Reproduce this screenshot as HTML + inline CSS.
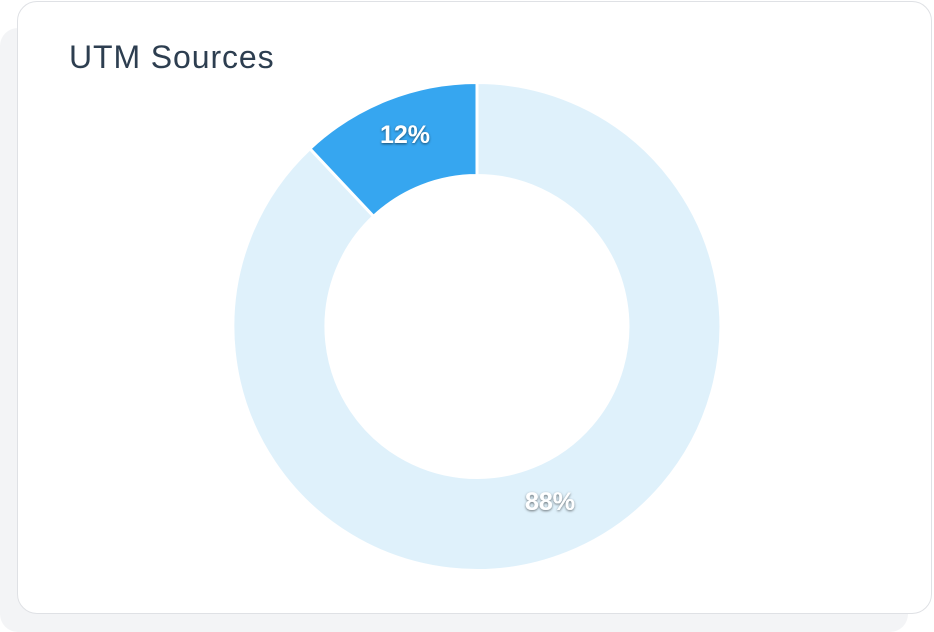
<!DOCTYPE html>
<html><head><meta charset="utf-8"><style>
html,body{margin:0;padding:0;width:934px;height:632px;background:#fff;overflow:hidden;font-family:"Liberation Sans",sans-serif}
.shadow{position:absolute;left:0;top:28px;width:908px;height:604px;background:#f3f4f6;border-radius:18px}
.card{position:absolute;left:17px;top:1px;width:913px;height:611px;background:#fff;border:1.5px solid #dfe1e5;border-radius:20px}
.title{position:absolute;left:69px;top:39px;font-size:32px;color:#2d3e50;letter-spacing:0.9px}
svg{position:absolute;left:0;top:0}
</style></head><body>
<div class="shadow"></div>
<div class="card"></div>
<div class="title">UTM Sources</div>
<svg width="934" height="632">
<defs><filter id="ts" x="-20%" y="-20%" width="140%" height="140%"><feDropShadow dx="0" dy="1" stdDeviation="1.2" flood-color="#000" flood-opacity="0.55"/></filter></defs>
<g stroke="#fff" stroke-width="3" stroke-linejoin="round">
<path d="M477,82.5 A244,244 0 1 1 309.9,148.6 L373.6,216.4 A151,151 0 1 0 477,175.5 Z" fill="#dff1fb"/>
<path d="M477,82.5 L477,175.5 A151,151 0 0 0 373.6,216.4 L309.9,148.6 A244,244 0 0 1 477,82.5 Z" fill="#36a6f0"/>
</g>
<g fill="#fff" font-weight="bold" font-size="25" text-anchor="middle" filter="url(#ts)">
<text x="405" y="143">12%</text>
<text x="550" y="510">88%</text>
</g>
</svg>
</body></html>
